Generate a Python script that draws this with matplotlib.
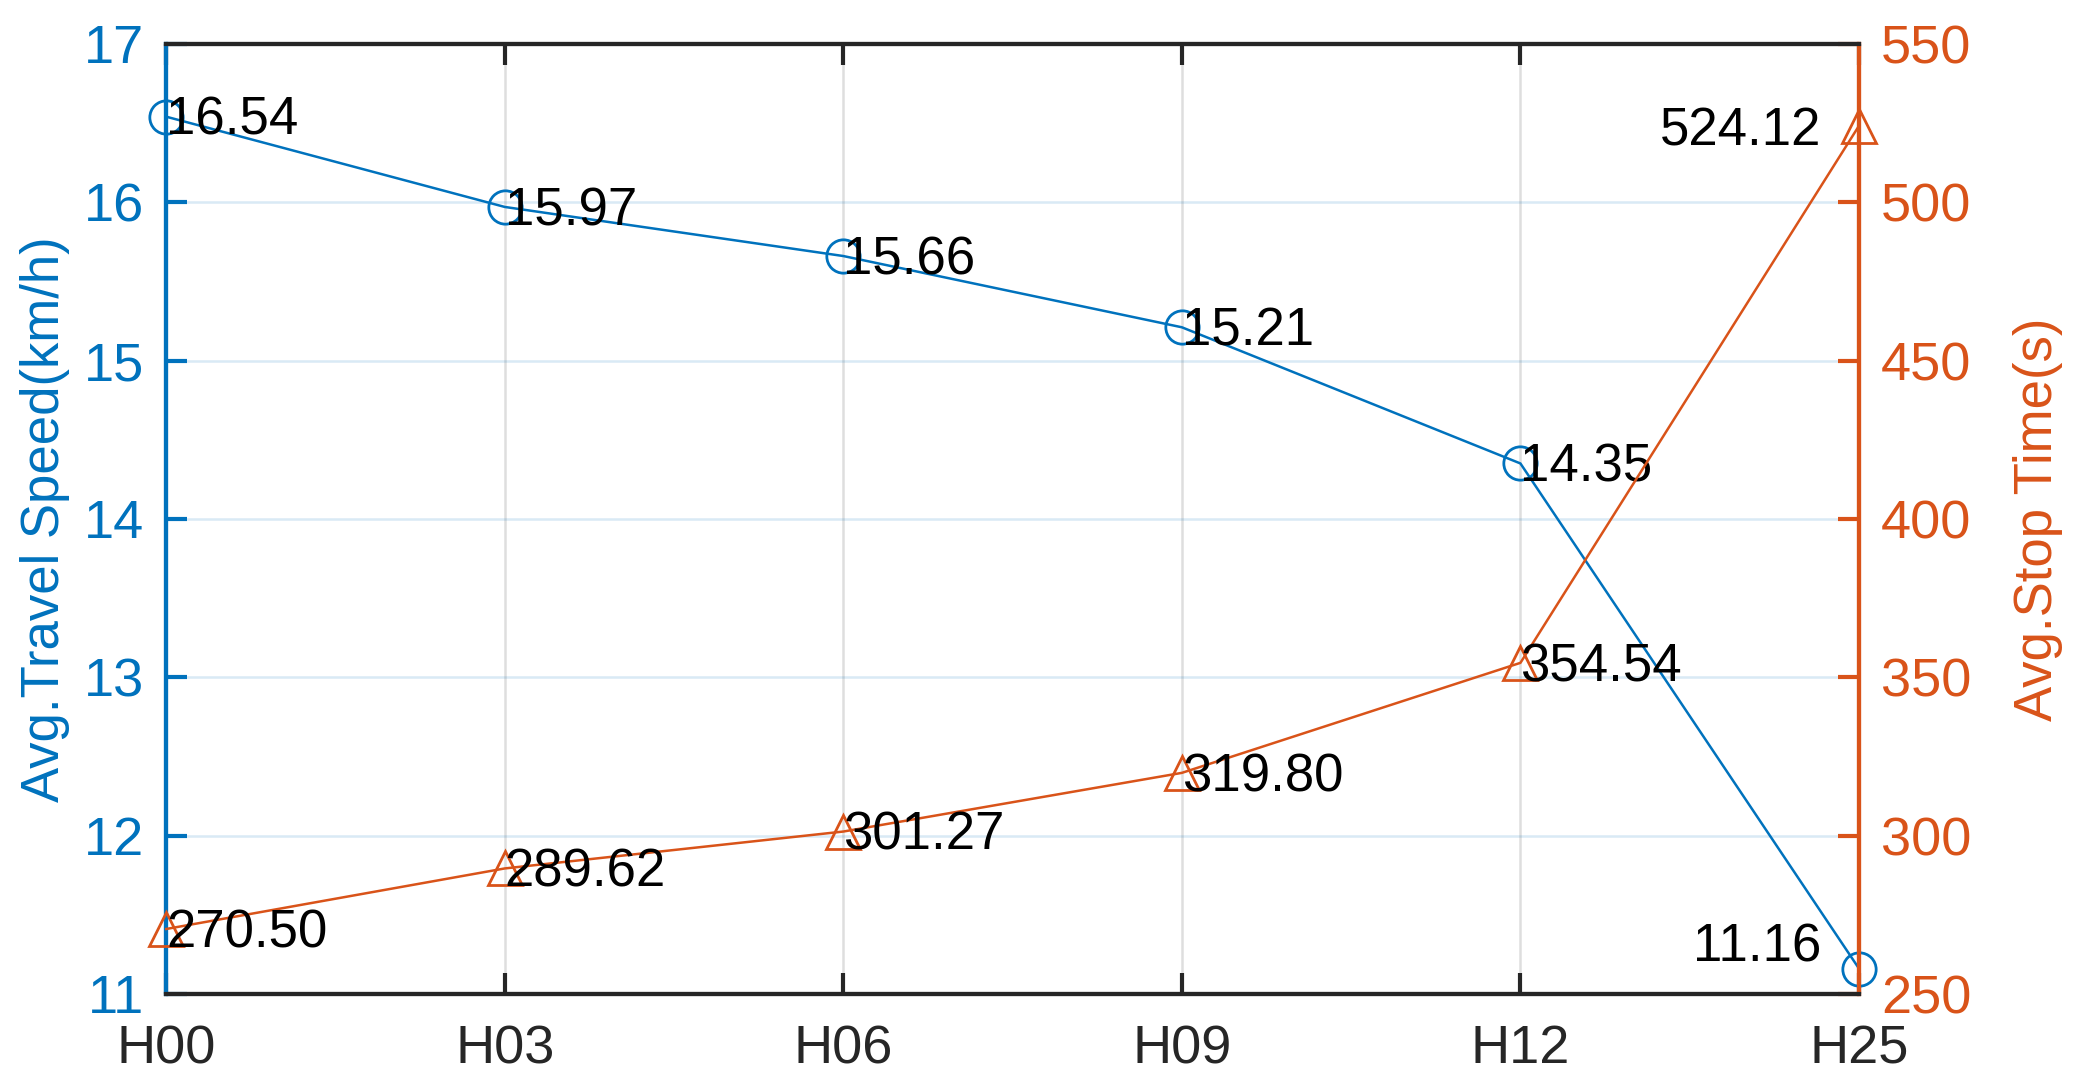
import matplotlib
matplotlib.use("Agg")
import matplotlib.pyplot as plt
import numpy as np

categories = ["H00", "H03", "H06", "H09", "H12", "H25"]
speed = [16.54, 15.97, 15.66, 15.21, 14.35, 11.16]
stop_time = [270.50, 289.62, 301.27, 319.80, 354.54, 524.12]
speed_ticks = [11, 12, 13, 14, 15, 16, 17]
stop_ticks = [250, 300, 350, 400, 450, 500, 550]

BLUE = "#0072BD"
ORANGE = "#D95319"
DARK = "#262626"

plt.rcParams['font.family'] = ['Liberation Sans', 'DejaVu Sans']
FS = 39
LFS = 38

fig = plt.figure(figsize=(20.78, 10.91), dpi=100)
ax = fig.add_axes([0.080, 0.089, 0.8146, 0.8708])
ax2 = ax.twinx()

x = np.arange(len(categories))

ax.plot(x, speed, color=BLUE, lw=1.8, marker='o', ms=24, mfc='none', mew=2, zorder=3, clip_on=False)
ax2.plot(x, stop_time, color=ORANGE, lw=1.8, marker='^', ms=24, mfc='none', mew=2, zorder=3, clip_on=False)

ax.set_xlim(0, len(categories) - 1)
ax.set_ylim(speed_ticks[0], speed_ticks[-1])
ax2.set_ylim(stop_ticks[0], stop_ticks[-1])
ax.set_xticks(x)
ax.set_xticklabels(categories)
ax.set_yticks(speed_ticks)
ax2.set_yticks(stop_ticks)

# grid
for xi in x:
    ax.axvline(xi, color=DARK, alpha=0.15, lw=1.8, zorder=0)
for yt in speed_ticks:
    ax.axhline(yt, color=BLUE, alpha=0.15, lw=1.8, zorder=0)

# spines
for a in (ax, ax2):
    a.spines['top'].set_color(DARK)
    a.spines['bottom'].set_color(DARK)
    a.spines['left'].set_color(BLUE)
    a.spines['right'].set_color(ORANGE)
    for s in a.spines.values():
        s.set_linewidth(3)

ax.tick_params(axis='x', direction='in', top=True, colors=DARK, labelsize=FS, length=15, width=3, pad=22)
ax.tick_params(axis='y', direction='in', colors=BLUE, labelsize=FS, length=15, width=3, pad=16)
ax2.tick_params(axis='y', direction='in', colors=ORANGE, labelsize=FS, length=15, width=3, pad=16)

ax.set_ylabel("Avg.Travel Speed(km/h)", color=BLUE, fontsize=LFS, labelpad=10)
ax2.set_ylabel("Avg.Stop Time(s)", color=ORANGE, fontsize=LFS, labelpad=30)

# data labels
n = len(categories)
for i in range(n - 1):
    ax.annotate(f"{speed[i]:.2f}", (x[i], speed[i]), xytext=(0, -3), textcoords='offset points',
                ha='left', va='center', fontsize=LFS, color='black', zorder=5)
    ax2.annotate(f"{stop_time[i]:.2f}", (x[i], stop_time[i]), xytext=(0, -3), textcoords='offset points',
                 ha='left', va='center', fontsize=LFS, color='black', zorder=5)
ax.annotate(f"{speed[-1]:.2f}", (x[-1], speed[-1]), xytext=(-27, 15), textcoords='offset points',
            ha='right', va='center', fontsize=LFS, color='black', zorder=5)
ax2.annotate(f"{stop_time[-1]:.2f}", (x[-1], stop_time[-1]), xytext=(-27, -4), textcoords='offset points',
             ha='right', va='center', fontsize=LFS, color='black', zorder=5)

fig.savefig("out.png", dpi=100, facecolor='white')
